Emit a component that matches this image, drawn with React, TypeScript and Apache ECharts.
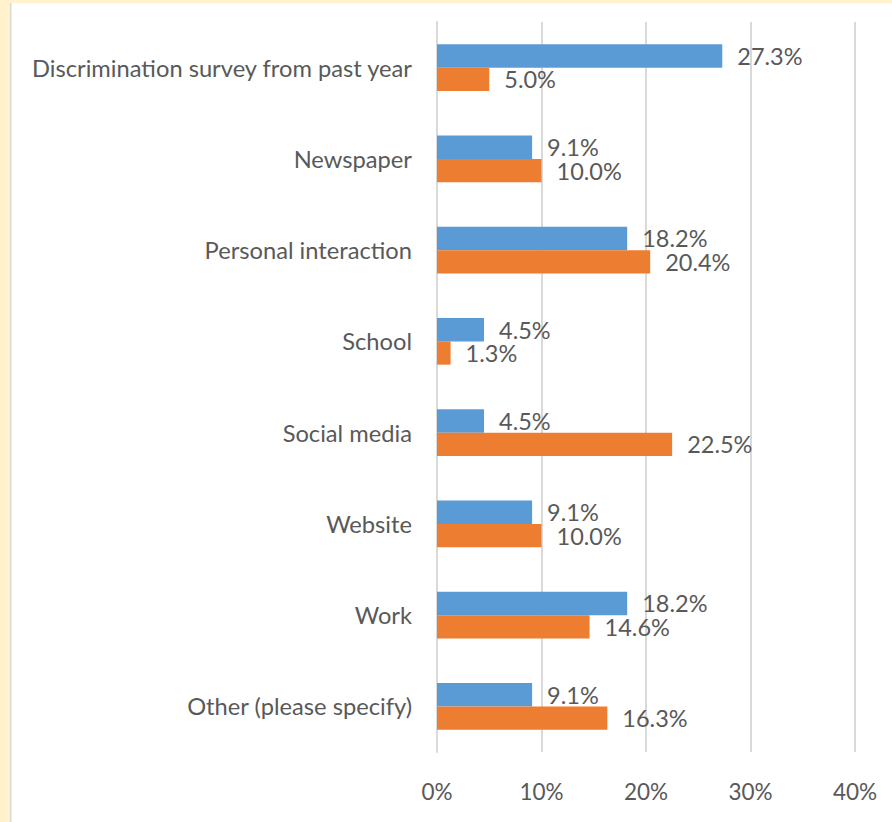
import React, { useEffect, useRef } from "react";
import * as echarts from "echarts";

const categories = [
  "Discrimination survey from past year",
  "Newspaper",
  "Personal interaction",
  "School",
  "Social media",
  "Website",
  "Work",
  "Other (please specify)",
];
const seriesA = [27.3, 9.1, 18.2, 4.5, 4.5, 9.1, 18.2, 9.1];
const seriesB = [5.0, 10.0, 20.4, 1.3, 22.5, 10.0, 14.6, 16.3];
const xTicks = [0, 10, 20, 30, 40];

export default function App() {
  const ref = useRef<HTMLDivElement>(null);
  useEffect(() => {
    if (!ref.current) return;
    const chart = echarts.init(ref.current, undefined, { renderer: "svg" });
    const font = "Lato, 'Open Sans', sans-serif";
    const labelStyle = {
      show: true,
      position: "right" as const,
      distance: 15,
      color: "#595959",
      fontSize: 23.5,
      fontFamily: font,
      formatter: (p: any) => Number(p.value).toFixed(1) + "%",
    };
    chart.setOption({
      animation: false,
      backgroundColor: "#ffffff",
      graphic: [
        { type: "rect", left: 0, top: 0, shape: { width: 892, height: 3 }, style: { fill: "#FFF2CC" }, z: 100 },
        { type: "rect", left: 0, top: 0, shape: { width: 10, height: 822 }, style: { fill: "#FFF2CC" }, z: 100 },
        { type: "rect", left: 10, top: 3, shape: { width: 1.5, height: 819 }, style: { fill: "#d9d9d9" }, z: 100 },
      ],
      grid: { left: 437, right: 37, top: 22, bottom: 70, containLabel: false },
      xAxis: {
        type: "value",
        min: xTicks[0],
        max: xTicks[xTicks.length - 1],
        interval: 10,
        axisLine: { show: false },
        axisTick: { show: false },
        splitLine: { show: true, lineStyle: { color: "#d9d9d9", width: 2 } },
        axisLabel: {
          formatter: (v: number) => v + "%",
          color: "#595959",
          fontSize: 22.5,
          fontFamily: font,
          margin: 28,
        },
      },
      yAxis: {
        type: "category",
        data: categories,
        inverse: true,
        axisLine: { show: true, lineStyle: { color: "#d9d9d9", width: 2 } },
        axisTick: { show: false },
        axisLabel: {
          color: "#595959",
          fontSize: 23.7,
          fontFamily: font,
          margin: 25,
        },
      },
      series: [
        {
          type: "bar",
          data: seriesA,
          barGap: "0%",
          barCategoryGap: "49%",
          itemStyle: { color: "#5B9BD5" },
          label: labelStyle,
        },
        {
          type: "bar",
          data: seriesB,
          barGap: "0%",
          barCategoryGap: "49%",
          itemStyle: { color: "#ED7D31" },
          label: labelStyle,
        },
      ],
    });
    return () => chart.dispose();
  }, []);
  return (
    <div
      ref={ref}
      style={{ position: "fixed", left: 0, top: 0, width: 892, height: 822 }}
    />
  );
}
